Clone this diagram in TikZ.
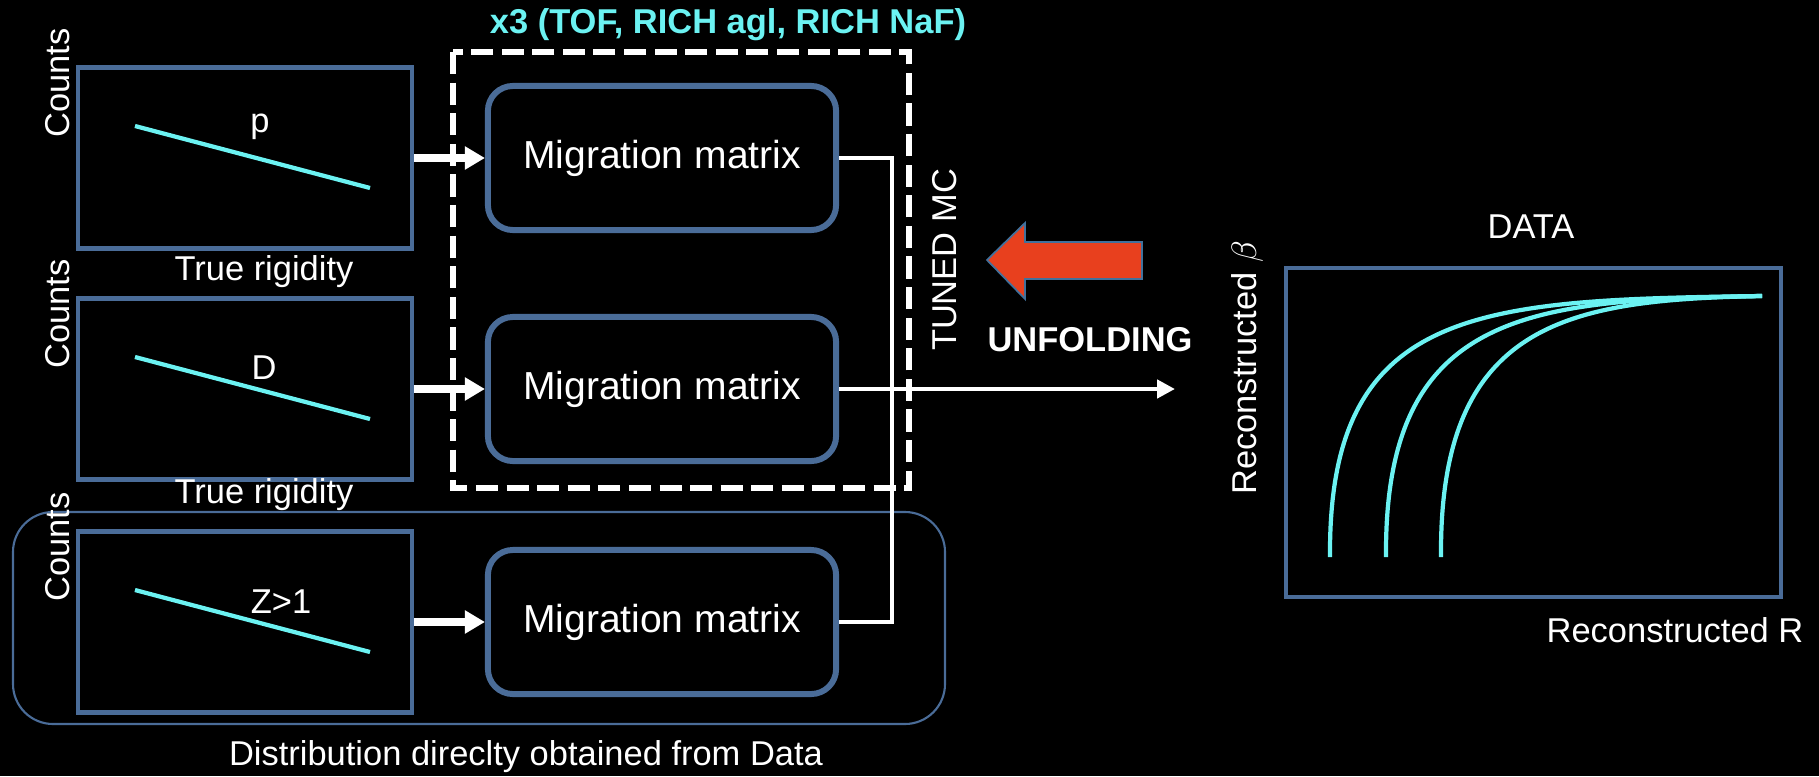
\documentclass[tikz,border=0pt]{standalone}
\usepackage{fontspec}
\setmainfont{Liberation Sans}
\usetikzlibrary{arrows.meta}

\definecolor{framecol}{HTML}{4A6C98}
\definecolor{curvecol}{HTML}{6BF2F2}
\definecolor{unfoldred}{HTML}{E8401E}
\definecolor{unfoldedge}{HTML}{41719C}

\begin{document}
\begin{tikzpicture}[x=0.01cm,y=-0.01cm,
    font=\fontsize{9.8}{11.8}\selectfont,
    every node/.style={text=white,inner sep=0pt},
    histbox/.style={draw=framecol,line width=1.2pt,minimum width=3.34cm,minimum height=1.81cm},
    mmbox/.style={draw=framecol,line width=1.7pt,rounded corners=0.25cm,minimum width=3.48cm,minimum height=1.44cm,font=\fontsize{11.1}{13}\selectfont},
    feed/.style={white,line width=2pt,-{Triangle[length=5.7pt,width=6.3pt]}},
    link/.style={white,line width=1.4pt},
    trend/.style={curvecol,line width=1.2pt}]
        \fill[black] (0,0) rectangle (1819,776);
        \useasboundingbox (0,0) rectangle (1819,776);
        \draw[white,line width=1.9pt,dash pattern=on 6.3pt off 2.4pt] (453,52) rectangle (909,488);
        \draw[framecol,line width=0.6pt,rounded corners=0.4cm] (13,512) rectangle (945,724);
        \node[text=curvecol,font=\fontsize{9.8}{11.8}\selectfont\bfseries] (title) at (728,25) {x3 (TOF, RICH agl, RICH NaF)};
    \foreach \n/\y/\lx/\ly/\lab in {1/158/260/127/p, 2/389/264/368/D, 3/622/281/602/{Z>1}}{
        \node[histbox] (hist\n) at (245,\y) {};
        \node[rotate=90] (counts\n) at (58,\y-75) {Counts};
        \draw[trend] (135,\y-32) -- (370,\y+30);
        \node (part\n) at (\lx,\ly) {\lab};
        \node[mmbox] (mm\n) at (662,\y) {Migration matrix};
        \draw[feed] (hist\n) -- (mm\n);
    }
        \node (true1) at (264,272) {True rigidity};
        \node (true2) at (264,495) {True rigidity};
        \node (direct) at (526,757) {Distribution direclty obtained from Data};
        \coordinate (bus) at (892,389);
        \coordinate (out) at (1175,389);
        \draw[link] (mm1.east) -| (bus) |- (mm3.east);
        \draw[link,-{Triangle[length=5.1pt,width=5.1pt]}] (mm2.east) -- (out);
        \node[rotate=90] (tuned) at (945,260) {TUNED MC};
        \node[font=\fontsize{9.8}{11.8}\selectfont\bfseries] (unfold) at (1090,340) {UNFOLDING};
        \filldraw[fill=unfoldred,draw=unfoldedge,line width=0.5pt] (1142,242) -- (1025,242) -- (1025,223) -- (987,260) -- (1025,299) -- (1025,279) -- (1142,279) -- cycle;
        \node[draw=framecol,line width=1.2pt,minimum width=4.95cm,minimum height=3.29cm] (plot) at (1533.5,432.5) {};
        \node (data) at (1531,227) {DATA};
        \node[rotate=90] (ybeta) at (1247,368) {Reconstructed $\beta$};
        \node (xrig) at (1675,630) {Reconstructed R};
    \foreach \x/\cy/\cx in {1330/305/1480, 1386/310/1530, 1441/320/1570}{
        \draw[trend] (\x,557) .. controls (\x-2,\cy) and (\cx,300) .. (1762,296);
    }
        \end{tikzpicture}
\end{document}
